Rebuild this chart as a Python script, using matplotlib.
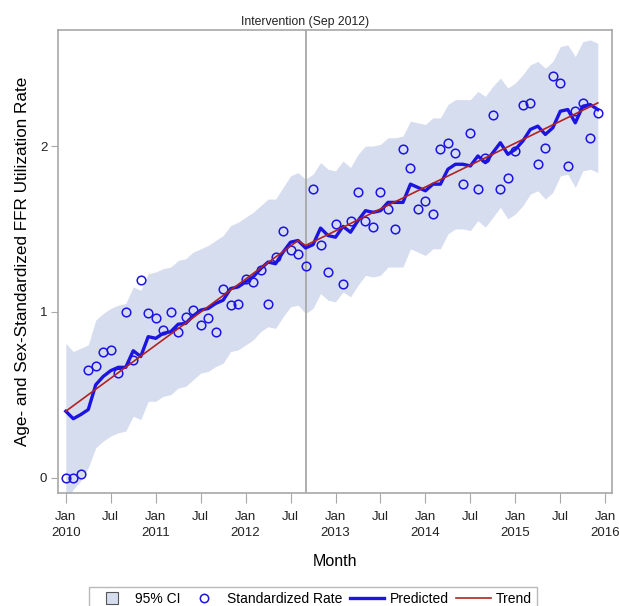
import matplotlib
matplotlib.use('Agg')
import matplotlib.pyplot as plt
from matplotlib.lines import Line2D

plt.rcParams['font.family'] = ['Liberation Sans', 'DejaVu Sans']

# months since Jan 2010
months = list(range(72))

observed = [0.00, 0.00, 0.02, 0.65, 0.67, 0.76, 0.77, 0.63, 1.00, 0.71,
            1.19, 0.99, 0.96, 0.89, 1.00, 0.88, 0.97, 1.01, 0.92, 0.96,
            0.88, 1.14, 1.04, 1.05, 1.20, 1.18, 1.25, 1.05, 1.33, 1.49,
            1.37, 1.35, 1.275, 1.74, 1.40, 1.24, 1.53, 1.17, 1.55, 1.72,
            1.55, 1.51, 1.72, 1.62, 1.50, 1.98, 1.87, 1.62, 1.67, 1.59,
            1.98, 2.02, 1.96, 1.77, 2.08, 1.74, 1.93, 2.19, 1.74, 1.81,
            1.97, 2.25, 2.26, 1.89, 1.99, 2.42, 2.38, 1.88, 2.21, 2.26,
            2.05, 2.20]

predicted = [0.40, 0.355, 0.38, 0.41, 0.56, 0.61, 0.645, 0.665, 0.665, 0.765,
             0.73, 0.85, 0.84, 0.87, 0.88, 0.925, 0.93, 0.975, 1.01, 1.02,
             1.05, 1.07, 1.14, 1.15, 1.18, 1.21, 1.26, 1.30, 1.29, 1.36,
             1.42, 1.43, 1.385, 1.405, 1.505, 1.46, 1.45, 1.515, 1.48, 1.55,
             1.61, 1.60, 1.61, 1.66, 1.66, 1.66, 1.77, 1.75, 1.73, 1.77,
             1.77, 1.86, 1.89, 1.89, 1.88, 1.94, 1.90, 1.96, 2.02, 1.95,
             1.98, 2.03, 2.10, 2.12, 2.07, 2.11, 2.21, 2.22, 2.14, 2.24,
             2.25, 2.22]

ci_upper = [0.81, 0.76, 0.78, 0.80, 0.95, 0.99, 1.02, 1.04, 1.05, 1.15,
            1.13, 1.23, 1.24, 1.26, 1.27, 1.31, 1.32, 1.36, 1.38, 1.40,
            1.43, 1.46, 1.52, 1.54, 1.57, 1.60, 1.64, 1.68, 1.68, 1.75,
            1.82, 1.84, 1.80, 1.83, 1.90, 1.86, 1.85, 1.91, 1.87, 1.95,
            2.00, 2.00, 2.01, 2.05, 2.05, 2.06, 2.15, 2.14, 2.13, 2.17,
            2.17, 2.25, 2.28, 2.28, 2.28, 2.33, 2.30, 2.36, 2.41, 2.35,
            2.38, 2.43, 2.49, 2.51, 2.47, 2.51, 2.60, 2.61, 2.54, 2.63,
            2.64, 2.62]

ci_lower = [-0.15, -0.07, -0.02, 0.06, 0.18, 0.22, 0.25, 0.27, 0.28, 0.37,
            0.35, 0.46, 0.46, 0.49, 0.50, 0.54, 0.55, 0.59, 0.63, 0.64,
            0.67, 0.69, 0.76, 0.77, 0.80, 0.83, 0.88, 0.91, 0.90, 0.97,
            1.03, 1.04, 0.99, 1.02, 1.11, 1.07, 1.06, 1.12, 1.09, 1.16,
            1.22, 1.21, 1.22, 1.27, 1.27, 1.27, 1.38, 1.36, 1.34, 1.38,
            1.38, 1.47, 1.50, 1.50, 1.49, 1.55, 1.51, 1.57, 1.63, 1.56,
            1.59, 1.64, 1.71, 1.73, 1.68, 1.72, 1.82, 1.83, 1.75, 1.85,
            1.86, 1.84]

# segmented trend: end points of pre and post segments
trend_months = [0, 31, 32, 71]
trend_values = [0.40, 1.43, 1.40, 2.26]

intervention = 32  # Sep 2012

tick_pos = list(range(0, 73, 6))
tick_labels = ['Jan\n2010', 'Jul', 'Jan\n2011', 'Jul', 'Jan\n2012', 'Jul',
               'Jan\n2013', 'Jul', 'Jan\n2014', 'Jul', 'Jan\n2015', 'Jul',
               'Jan\n2016']

band_color = '#d6ddef'
blue = '#1c14e0'
red = '#b22222'
grey = '#a8a8a8'

fig = plt.figure(figsize=(6.19, 6.06), dpi=100)
ax = fig.add_axes([58.3 / 619, 1 - 493.3 / 606, (612 - 58.3) / 619, (493.3 - 30) / 606])

ax.fill_between(months, ci_lower, ci_upper, color=band_color, lw=0)
ax.axvline(intervention, color=grey, lw=1.3)
ax.plot(months, observed, 'o', ms=6.2, mfc='none', mec=blue, mew=1.1)
ax.plot(months, predicted, color=blue, lw=2.4)
ax.plot(trend_months, trend_values, color=red, lw=1.2)

ax.set_xlim(-1, 72.9)
ax.set_ylim(-0.095, 2.70)
ax.set_xticks(tick_pos)
ax.set_xticklabels(tick_labels, fontsize=9.5, color='#222222', linespacing=1.35)
ax.set_yticks([0, 1, 2])
ax.set_yticklabels(['0', '1', '2'], fontsize=9.5, color='#222222')
ax.tick_params(axis='x', length=7, color=grey, pad=6)
ax.tick_params(axis='y', length=5, color=grey, pad=3)
for s in ax.spines.values():
    s.set_color(grey)
    s.set_linewidth(1.2)

ax.set_xlabel('Month', fontsize=11.5, labelpad=11)
ax.set_ylabel('Age- and Sex-Standardized FFR Utilization Rate', fontsize=12.3, labelpad=7)
ax.text(intervention, 1.005, 'Intervention (Sep 2012)', transform=ax.get_xaxis_transform(),
        ha='center', va='bottom', fontsize=8.8, color='#222222')

handles = [
    Line2D([], [], ls='none', marker='s', ms=9, mfc=band_color, mec='#555555', mew=0.8),
    Line2D([], [], ls='none', marker='o', ms=6, mfc='none', mec=blue, mew=1.1),
    Line2D([], [], color=blue, lw=2.4),
    Line2D([], [], color=red, lw=1.2),
]
labels = ['95% CI', 'Standardized Rate', 'Predicted', 'Trend']
leg = fig.legend(handles, labels, loc='center', bbox_to_anchor=(0.506, 1 - 599 / 606),
                 ncol=4, frameon=True, fancybox=False, fontsize=10, handlelength=2.5,
                 columnspacing=0.5, handletextpad=0.4, borderpad=0.35)
leg.get_frame().set_edgecolor(grey)
leg.get_frame().set_linewidth(1.0)

fig.savefig('out.png', dpi=100)
